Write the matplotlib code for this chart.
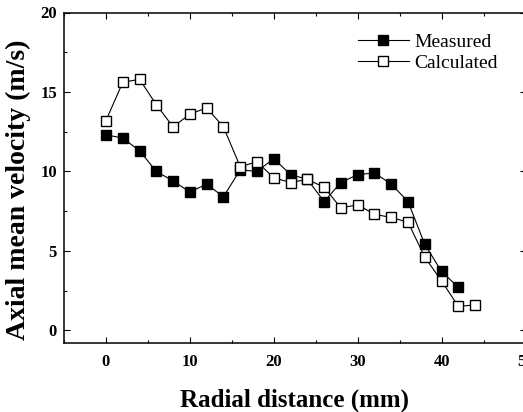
#!/usr/bin/env python3
"""Axial mean velocity against radial distance: measured vs calculated."""

import matplotlib
matplotlib.use("Agg")
import matplotlib.pyplot as plt
from matplotlib.ticker import MultipleLocator

RADIUS_MEAS = [0, 2, 4, 6, 8, 10, 12, 14, 16, 18, 20, 22, 24, 26, 28, 30, 32, 34, 36, 38, 40, 42]
VEL_MEAS = [12.3, 12.1, 11.3, 10.0, 9.4, 8.7, 9.2, 8.4, 10.1, 10.0, 10.8, 9.8,
            9.5, 8.1, 9.3, 9.8, 9.9, 9.2, 8.1, 5.4, 3.7, 2.7]

RADIUS_CALC = [0, 2, 4, 6, 8, 10, 12, 14, 16, 18, 20, 22, 24, 26, 28, 30, 32, 34, 36, 38, 40, 42, 44]
VEL_CALC = [13.2, 15.6, 15.8, 14.2, 12.8, 13.6, 14.0, 12.8, 10.3, 10.6, 9.6, 9.3,
            9.5, 9.0, 7.7, 7.9, 7.3, 7.1, 6.8, 4.6, 3.1, 1.5, 1.6]

XTICKS = [0, 10, 20, 30, 40, 50]
YTICKS = [0, 5, 10, 15, 20]

plt.rcParams.update({
    "font.family": "Liberation Serif",
    "font.weight": "bold",
})


def main():
    fig = plt.figure(figsize=(5.23, 4.12), dpi=100)
    # axes runs a little past the right edge, as in the cropped original
    left, right, top, bottom = 64, 525.5, 12.5, 343
    ax = fig.add_axes([left / 523, 1 - bottom / 412, (right - left) / 523, (bottom - top) / 412])

    ax.plot(RADIUS_MEAS, VEL_MEAS, color="black", linewidth=0.8, marker="s",
            markersize=7, markerfacecolor="black", markeredgecolor="black",
            label="Measured", zorder=3)
    ax.plot(RADIUS_CALC, VEL_CALC, color="black", linewidth=0.8, marker="s",
            markersize=7, markerfacecolor="white", markeredgecolor="black",
            markeredgewidth=1.0, label="Calculated", zorder=4)

    ax.set_xlim(-5, 50)
    ax.set_ylim(-0.8, 20)
    ax.set_xticks(XTICKS)
    ax.set_yticks(YTICKS)
    ax.xaxis.set_minor_locator(MultipleLocator(5))
    ax.yaxis.set_minor_locator(MultipleLocator(2.5))
    ax.tick_params(which="both", direction="in", top=True, right=True,
                   labelsize=12, width=0.8)
    ax.tick_params(which="major", length=4)
    ax.tick_params(axis="x", which="major", pad=8)
    ax.tick_params(axis="y", which="major", pad=5)
    ax.tick_params(which="minor", length=2)
    for spine in ax.spines.values():
        spine.set_linewidth(1.1)

    ax.set_xlabel("Radial distance (mm)", fontsize=18, fontweight="bold", labelpad=13)
    ax.set_ylabel("Axial mean velocity (m/s)", fontsize=20, fontweight="bold")
    ax.yaxis.set_label_coords(-0.071, 0.463)

    ax.legend(loc="upper right", bbox_to_anchor=(0.957, 0.96), frameon=False,
              prop={"family": "Liberation Serif", "weight": "normal", "size": 14},
              handlelength=2.6, handletextpad=0.3, labelspacing=0.15,
              borderaxespad=0.0)

    fig.savefig("out.png", dpi=100, facecolor="white")
    plt.close(fig)


if __name__ == "__main__":
    main()
